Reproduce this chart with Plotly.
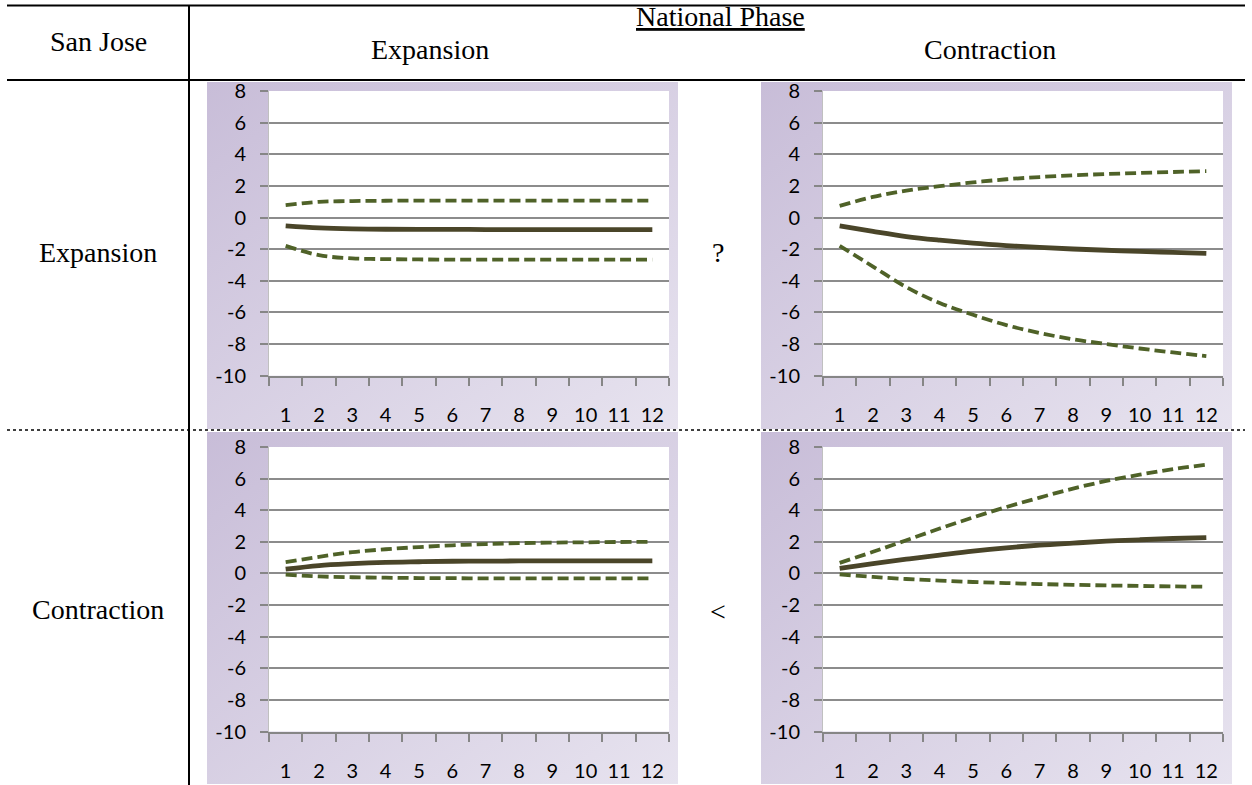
import base64
import plotly.graph_objects as go

W, H = 1252, 785

periods = list(range(1, 13))
y_ticks = [-10, -8, -6, -4, -2, 0, 2, 4, 6, 8]
y_tick_text = ["-10", "-8", "-6", "-4", "-2", "0", "2", "4", "6", "8"]

# San Jose Expansion / National Expansion
ee_mean = [-0.53, -0.66, -0.72, -0.74, -0.75, -0.75, -0.76, -0.76, -0.76, -0.76, -0.76, -0.76]
ee_upper = [0.78, 0.99, 1.04, 1.06, 1.07, 1.07, 1.07, 1.07, 1.07, 1.07, 1.07, 1.07]
ee_lower = [-1.79, -2.38, -2.58, -2.63, -2.65, -2.66, -2.66, -2.66, -2.66, -2.66, -2.66, -2.66]

# San Jose Expansion / National Contraction
ec_mean = [-0.53, -0.88, -1.2, -1.43, -1.62, -1.77, -1.89, -1.99, -2.07, -2.14, -2.2, -2.26]
ec_upper = [0.74, 1.3, 1.7, 1.98, 2.22, 2.42, 2.56, 2.67, 2.75, 2.82, 2.88, 2.93]
ec_lower = [-1.79, -3.1, -4.4, -5.4, -6.15, -6.8, -7.3, -7.7, -8.0, -8.28, -8.53, -8.76]

# San Jose Contraction / National Expansion
ce_mean = [0.27, 0.5, 0.62, 0.7, 0.74, 0.77, 0.78, 0.79, 0.8, 0.8, 0.8, 0.8]
ce_upper = [0.72, 1.05, 1.35, 1.53, 1.67, 1.78, 1.86, 1.92, 1.95, 1.97, 1.99, 2.0]
ce_lower = [-0.08, -0.19, -0.24, -0.27, -0.29, -0.3, -0.31, -0.31, -0.31, -0.31, -0.31, -0.31]

# San Jose Contraction / National Contraction
cc_mean = [0.32, 0.62, 0.9, 1.16, 1.41, 1.62, 1.79, 1.92, 2.04, 2.13, 2.21, 2.27]
cc_upper = [0.67, 1.37, 2.1, 2.84, 3.54, 4.2, 4.8, 5.37, 5.85, 6.25, 6.6, 6.88]
cc_lower = [-0.06, -0.22, -0.35, -0.45, -0.54, -0.61, -0.67, -0.72, -0.76, -0.79, -0.82, -0.84]

row_labels = ["Expansion", "Contraction"]
col_labels = ["Expansion", "Contraction"]
relation_marks = ["?", "<"]

panels = [
    (ee_mean, ee_upper, ee_lower),
    (ec_mean, ec_upper, ec_lower),
    (ce_mean, ce_upper, ce_lower),
    (cc_mean, cc_upper, cc_lower),
]

# pixel layout (style)
plot_x = [(269, 669), (823, 1223)]
plot_y = [(91, 375.7), (447, 731.5)]
bg_x = [(207, 678), (761, 1232)]
bg_y = [(82, 429), (432, 784)]

SOLID = "#4a4529"
DASH = "#4f6228"
SERIF = "Liberation Serif"
TICKFONT = dict(family="Lato", size=20, color="#000000")


def px(x):
    return x / W


def py(y):
    return 1 - y / H


svg = ('<svg xmlns="http://www.w3.org/2000/svg" width="100" height="100" viewBox="0 0 100 100" '
       'preserveAspectRatio="none"><defs><linearGradient id="g" x1="0" y1="0" x2="1" y2="1">'
       '<stop offset="0" stop-color="#c8bdd8"/><stop offset="1" stop-color="#e7e3ef"/>'
       '</linearGradient></defs><rect width="100" height="100" fill="url(#g)"/></svg>')
svg_uri = "data:image/svg+xml;base64," + base64.b64encode(svg.encode()).decode()

fig = go.Figure()
images = []
shapes = []

for i, (mean, upper, lower) in enumerate(panels):
    r, c = divmod(i, 2)
    n = i + 1
    xa = "x" if n == 1 else f"x{n}"
    ya = "y" if n == 1 else f"y{n}"
    for vals, color, width, dash in [
        (upper, DASH, 3.8, "11px,5px"),
        (lower, DASH, 3.8, "11px,5px"),
        (mean, SOLID, 4.8, "solid"),
    ]:
        fig.add_trace(go.Scatter(
            x=periods, y=vals, mode="lines", xaxis=xa, yaxis=ya,
            line=dict(color=color, width=width, dash=dash, shape="spline", smoothing=1.0),
            hoverinfo="skip", showlegend=False,
        ))
    x0, x1 = plot_x[c]
    y0, y1 = plot_y[r]
    key_x = "xaxis" if n == 1 else f"xaxis{n}"
    key_y = "yaxis" if n == 1 else f"yaxis{n}"
    fig.layout[key_x] = dict(
        domain=[px(x0), px(x1)], anchor=ya, range=[0.5, 12.5],
        tickvals=periods, ticktext=[str(p) for p in periods], ticks="",
        showline=True, linecolor="#868686", linewidth=2, showgrid=False, zeroline=False,
        minor=dict(tick0=0.5, dtick=1, ticks="outside", ticklen=8, tickcolor="#868686", tickwidth=1.5),
        tickfont=TICKFONT, ticklabelstandoff=20, fixedrange=True, automargin=False,
    )
    fig.layout[key_y] = dict(
        domain=[py(y1), py(y0)], anchor=xa, range=[-10, 8],
        tickvals=y_ticks, ticktext=y_tick_text, ticks="outside", ticklen=8,
        tickcolor="#868686", tickwidth=1.5,
        showline=True, linecolor="#c0c0c0", linewidth=1,
        showgrid=True, gridcolor="#8c8c8c", gridwidth=1.6, zeroline=False,
        tickfont=TICKFONT, ticklabelstandoff=10, fixedrange=True, automargin=False,
    )
    bx0, bx1 = bg_x[c]
    by0, by1 = bg_y[r]
    images.append(dict(
        source=svg_uri, xref="paper", yref="paper", x=px(bx0), y=py(by0),
        sizex=(bx1 - bx0) / W, sizey=(by1 - by0) / H, xanchor="left", yanchor="top",
        sizing="stretch", layer="below",
    ))
    shapes.append(dict(
        type="rect", xref=f"{xa} domain", yref=f"{ya} domain", x0=0, x1=1, y0=0, y1=1,
        fillcolor="#ffffff", line=dict(width=0), layer="below",
    ))

# table rules
shapes += [
    dict(type="line", xref="paper", yref="paper", x0=px(7), x1=px(1245), y0=py(5.5), y1=py(5.5),
         line=dict(color="#000000", width=2)),
    dict(type="line", xref="paper", yref="paper", x0=px(7), x1=px(1245), y0=py(80), y1=py(80),
         line=dict(color="#000000", width=2)),
    dict(type="line", xref="paper", yref="paper", x0=px(189), x1=px(189), y0=py(5.5), y1=py(785),
         line=dict(color="#000000", width=2)),
    dict(type="line", xref="paper", yref="paper", x0=px(7), x1=px(1245), y0=py(430), y1=py(430),
         line=dict(color="#000000", width=1.3, dash="dot")),
]

annotations = []


def add_text(text, x, y, size=28):
    annotations.append(dict(
        text=text, x=px(x), y=py(y), xref="paper", yref="paper", showarrow=False,
        xanchor="center", yanchor="middle", font=dict(family=SERIF, size=size, color="#000000"),
    ))


add_text("San Jose", 98, 42)
add_text("<u>National Phase</u>", 720, 17)
add_text(col_labels[0], 430, 50)
add_text(col_labels[1], 990, 50)
add_text(row_labels[0], 98, 253)
add_text(row_labels[1], 98, 609)
add_text(relation_marks[0], 718, 253)
add_text(relation_marks[1], 718, 611)

fig.update_layout(
    width=W, height=H, margin=dict(l=0, r=0, t=0, b=0, pad=0, autoexpand=False),
    paper_bgcolor="#ffffff", plot_bgcolor="#ffffff",
    images=images, shapes=shapes, annotations=annotations, showlegend=False,
)

fig.write_html("out.html")
